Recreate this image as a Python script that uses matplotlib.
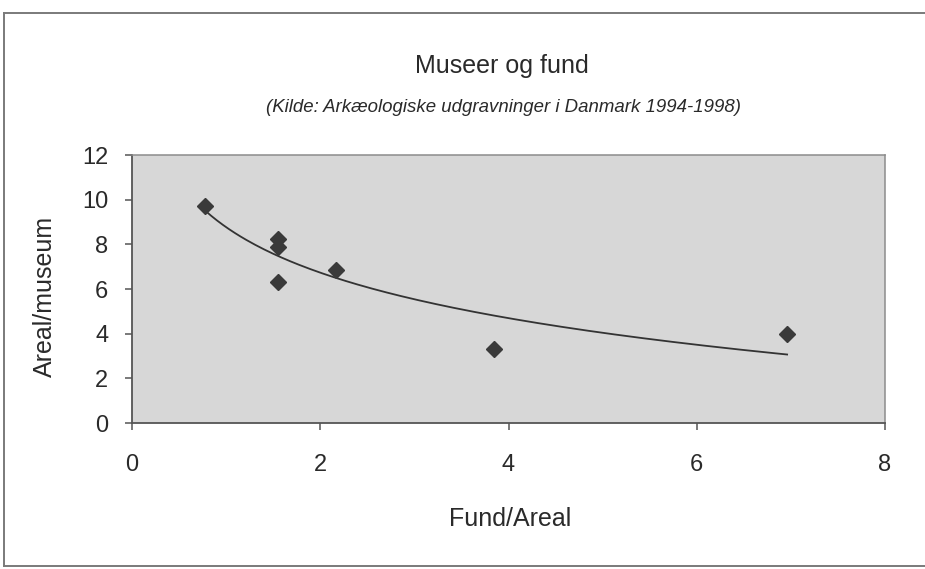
import numpy as np
import matplotlib
matplotlib.use("Agg")
import matplotlib.pyplot as plt
from matplotlib.lines import Line2D

plt.rcParams['font.family'] = ['Liberation Sans', 'DejaVu Sans']

# Data
fund_areal = [0.78, 1.55, 1.55, 1.55, 2.17, 3.85, 6.96]
areal_museum = [9.72, 8.25, 7.87, 6.30, 6.87, 3.31, 3.99]
x_ticks = [0, 2, 4, 6, 8]
y_ticks = [0, 2, 4, 6, 8, 10, 12]

title = "Museer og fund"
subtitle = "(Kilde: Arkæologiske udgravninger i Danmark 1994-1998)"

W, H = 925, 569
fig = plt.figure(figsize=(W / 100, H / 100), dpi=100)
fig.patch.set_facecolor('white')

ax = fig.add_axes([132 / W, 1 - 423 / H, 753 / W, 268 / H])
ax.set_facecolor('#d7d7d7')

# Logarithmic trend line fitted to the data (as in a spreadsheet trendline)
lx = np.log(np.array(fund_areal))
b, a = np.polyfit(lx, np.array(areal_museum), 1)
xt = np.linspace(min(fund_areal), max(fund_areal), 200)
ax.plot(xt, a + b * np.log(xt), color='#333333', lw=1.3, zorder=2)

ax.plot(fund_areal, areal_museum, linestyle='none', marker='D', markersize=8,
        markerfacecolor='#3a3a3a', markeredgecolor='#3a3a3a', zorder=3)

ax.set_xlim(0, 8)
ax.set_ylim(0, 12)
ax.set_xticks(x_ticks)
ax.set_yticks(y_ticks)
ax.tick_params(axis='both', direction='out', length=5, width=1.1,
               color='#555555', labelsize=17, labelcolor='#2a2a2a')
ax.tick_params(axis='x', pad=17)
ax.tick_params(axis='y', pad=12)

for side in ['left', 'bottom']:
    ax.spines[side].set_color('#555555')
    ax.spines[side].set_linewidth(1.3)
for side in ['top', 'right']:
    ax.spines[side].set_color('#8c8c8c')
    ax.spines[side].set_linewidth(1.1)

ax.set_xlabel("Fund/Areal", fontsize=18, color='#2a2a2a', va='center')
ax.xaxis.set_label_coords((510 - 132) / 753, (423 - 519) / 268)
ax.set_ylabel("Areal/museum", fontsize=18, color='#2a2a2a', va='center')
ax.yaxis.set_label_coords((45 - 132) / 753, (423 - 296) / 268)

fig.text(502 / W, 1 - 66 / H, title, ha='center', va='center',
         fontsize=18, color='#2a2a2a')
fig.text(504 / W, 1 - 108 / H, subtitle, ha='center', va='center',
         fontsize=13.4, style='italic', color='#2a2a2a')

# outer frame of the scanned chart
def fl(x0, y0, x1, y1):
    fig.add_artist(Line2D([x0 / W, x1 / W], [1 - y0 / H, 1 - y1 / H],
                          transform=fig.transFigure, color='#7a7a7a', lw=1.4))

fl(4, 13, 925, 13)
fl(4, 13, 4, 566)
fl(4, 566, 925, 566)

fig.savefig("out.png", dpi=100)
